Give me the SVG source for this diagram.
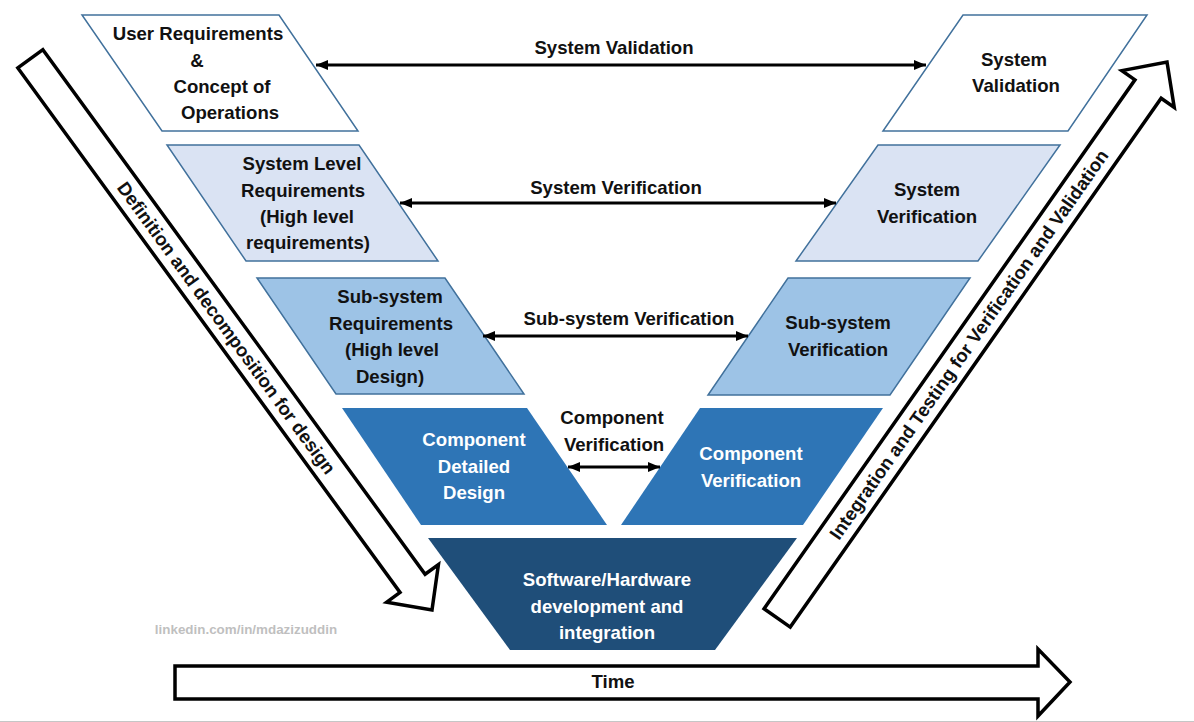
<svg xmlns="http://www.w3.org/2000/svg" width="1194" height="722" viewBox="0 0 1194 722">
<defs>
<style>
.t{font-family:"Liberation Sans",Arial,sans-serif;font-weight:bold;font-size:18.6px;text-anchor:middle;fill:#111;}
.w{fill:#ffffff;}
.s{stroke:#41719c;stroke-width:1.5;}
.blk{fill:#fff;stroke:#000;stroke-width:3.5;stroke-linejoin:miter;}
.con{stroke:#000;stroke-width:3.2;fill:none;}
</style>
<marker id="ah" viewBox="0 0 12 10" refX="12" refY="5" markerWidth="12" markerHeight="10" markerUnits="userSpaceOnUse" orient="auto-start-reverse">
<path d="M0,0 L12,5 L0,10 Z" fill="#000"/>
</marker>
</defs>
<rect width="1194" height="722" fill="#fff"/>
<line x1="0" y1="721.5" x2="1194" y2="721.5" stroke="#c6c6c6" stroke-width="1.2"/>

<g id="user-req">
<polygon class="s" points="82,15 279,15 358,131 162,131" fill="#ffffff"/>
<text class="t" x="198" y="40">User Requirements</text>
<text class="t" x="197" y="67">&amp;</text>
<text class="t" x="222" y="93">Concept of</text>
<text class="t" x="230" y="119">Operations</text>
</g>
<g id="sys-req">
<polygon class="s" points="167,145 359,145 438,261 246,261" fill="#dae3f3"/>
<text class="t" x="302" y="170">System Level</text>
<text class="t" x="303" y="197">Requirements</text>
<text class="t" x="307" y="223">(High level</text>
<text class="t" x="308" y="249">requirements)</text>
</g>
<g id="sub-req">
<polygon class="s" points="257,278 445,278 524,394 336,394" fill="#9dc3e6"/>
<text class="t" x="390" y="303">Sub-system</text>
<text class="t" x="391" y="330">Requirements</text>
<text class="t" x="392" y="356">(High level</text>
<text class="t" x="390" y="383">Design)</text>
</g>
<g id="comp-design">
<polygon points="342,408 527,408 607,525 421,525" fill="#2e75b6"/>
<text class="t w" x="474" y="446">Component</text>
<text class="t w" x="474" y="473">Detailed</text>
<text class="t w" x="474" y="499">Design</text>
</g>
<g id="sw-hw">
<polygon points="428,538 797,538 715,650 510,650" fill="#1f4e79"/>
<text class="t w" x="607" y="586">Software/Hardware</text>
<text class="t w" x="607" y="613">development and</text>
<text class="t w" x="607" y="639">integration</text>
</g>
<g id="comp-ver">
<polygon points="700,408 883,408 803,525 621,525" fill="#2e75b6"/>
<text class="t w" x="751" y="460">Component</text>
<text class="t w" x="751" y="487">Verification</text>
</g>
<g id="sub-ver">
<polygon class="s" points="788,278 970,278 890,395 708,395" fill="#9dc3e6"/>
<text class="t" x="838" y="329">Sub-system</text>
<text class="t" x="838" y="356">Verification</text>
</g>
<g id="sys-ver">
<polygon class="s" points="878,145 1060,145 978,261 796,261" fill="#dae3f3"/>
<text class="t" x="927" y="196">System</text>
<text class="t" x="927" y="223">Verification</text>
</g>
<g id="sys-val">
<polygon class="s" points="963,15 1147,15 1068,131 883,131" fill="#ffffff"/>
<text class="t" x="1014" y="66">System</text>
<text class="t" x="1016" y="92">Validation</text>
</g>

<g id="connectors">
<line class="con" x1="316" y1="65" x2="926" y2="65" marker-start="url(#ah)" marker-end="url(#ah)"/>
<line class="con" x1="400" y1="203" x2="836" y2="203" marker-start="url(#ah)" marker-end="url(#ah)"/>
<line class="con" x1="483" y1="336" x2="748" y2="336" marker-start="url(#ah)" marker-end="url(#ah)"/>
<line class="con" x1="568" y1="467" x2="660" y2="467" marker-start="url(#ah)" marker-end="url(#ah)"/>
<text class="t" x="614" y="54">System Validation</text>
<text class="t" x="616" y="194">System Verification</text>
<text class="t" x="629" y="325">Sub-system Verification</text>
<text class="t" x="612" y="424">Component</text>
<text class="t" x="614" y="451">Verification</text>
</g>

<g id="left-arrow" transform="translate(432,610) rotate(53.92)">
<polygon class="blk" points="-682,-15.5 -33,-15.5 -33,-32 0,0 -33,32 -33,15.5 -682,15.5"/>
<text class="t" x="-349" y="6.5">Definition and decomposition for design</text>
</g>
<g id="right-arrow" transform="translate(1167,62) rotate(-54.96)">
<polygon class="blk" points="-679,-16 -33,-16 -33,-32 0,0 -33,32 -33,16 -679,16"/>
<text class="t" x="-345" y="6.5">Integration and Testing for Verification and Validation</text>
</g>
<g id="time-arrow">
<polygon class="blk" points="175,666 1038,666 1038,649 1070,682 1038,716 1038,699 175,699"/>
<text class="t" x="613" y="688">Time</text>
</g>
<text x="246" y="634" font-family="Liberation Sans,Arial,sans-serif" font-weight="bold" font-size="13.4" fill="#bfbfbf" text-anchor="middle">linkedin.com/in/mdazizuddin</text>
</svg>
